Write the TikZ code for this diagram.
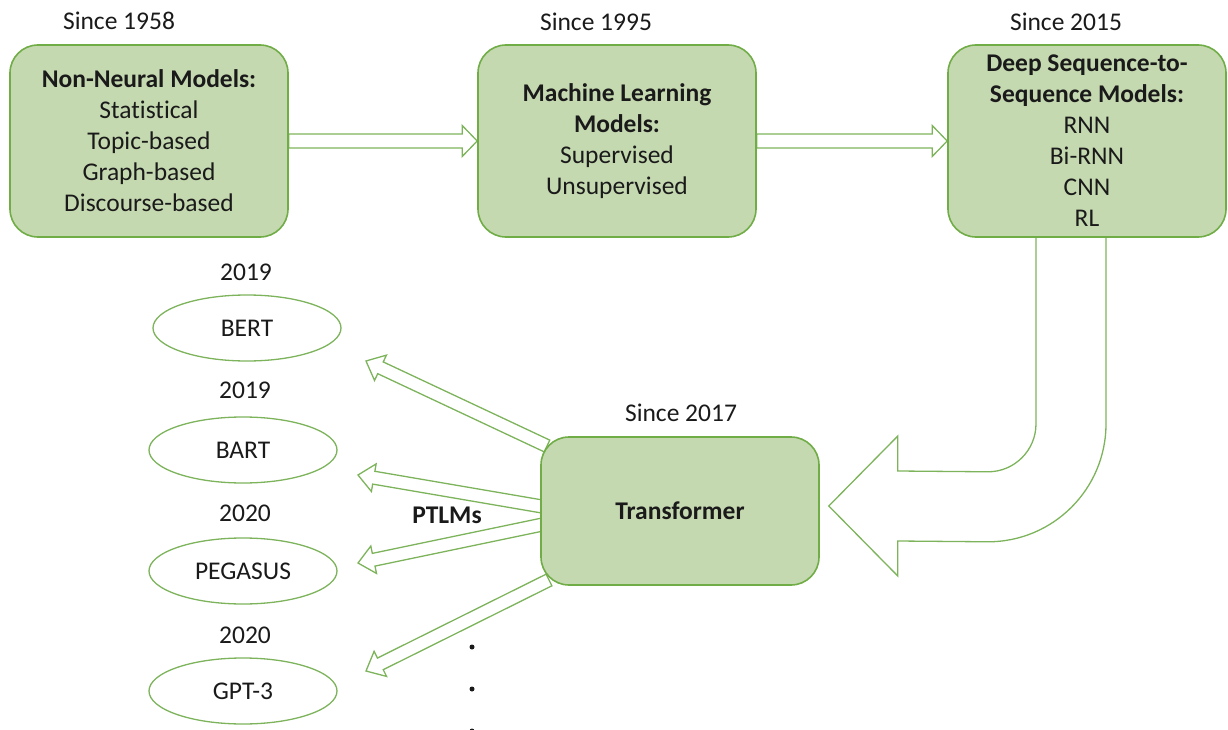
\documentclass[tikz,border=0pt]{standalone}
\usepackage{fontspec}
\setmainfont{Carlito}[Ligatures=NoCommon]
\usetikzlibrary{calc,shapes.geometric}
\pgfdeclarelayer{background}
\pgfsetlayers{background,main}

\definecolor{boxfill}{HTML}{C5D9B0}
\definecolor{boxline}{HTML}{70AD47}
\definecolor{arrowline}{HTML}{7CB35B}
\definecolor{ink}{HTML}{1A1A1A}

\tikzset{
  stage/.style={draw=boxline, line width=1.6bp, fill=boxfill, rounded corners=28bp,
    minimum width=278bp, align=center, text=ink, inner sep=0pt},
  model/.style={ellipse, draw=arrowline, line width=1.3bp, fill=white,
    minimum width=188bp, minimum height=66bp, inner sep=0pt, text=ink},
  yeartext/.style={text=ink, inner sep=0pt},
  blockarrow/.style={draw=arrowline, line width=1.3bp, line join=miter},
  dotmark/.style={circle, fill=ink, inner sep=0pt, minimum size=5bp},
}

% hollow block arrow: tail, tip, half shaft width, half head width, head length
\newcommand\hollowarrow[5]{%
  \coordinate (hb) at ($(#2)!#5!(#1)$);
  \draw[blockarrow] ($(#1)!#3!90:(#2)$) -- ($(hb)!#3!-90:(#1)$) -- ($(hb)!#4!-90:(#1)$)
    -- (#2) -- ($(hb)!#4!90:(#1)$) -- ($(hb)!#3!90:(#1)$) -- ($(#1)!#3!-90:(#2)$) -- cycle;
}

\begin{document}
\begin{tikzpicture}[x=1bp, y=-1bp, font=\fontsize{25.5bp}{31bp}\selectfont]
\useasboundingbox (0,0) rectangle (1228,730);

% main stages
\node[stage, minimum height=192bp] (b1) at (149,141)
  {\textbf{Non-Neural Models:}\\Statistical\\Topic-based\\Graph-based\\Discourse-based};
\node[stage, minimum height=192bp] (b2) at (617,141)
  {\textbf{Machine Learning}\\\textbf{Models:}\\Supervised\\Unsupervised};
\node[stage, minimum height=192bp] (b3) at (1087,141)
  {\textbf{Deep Sequence-to-}\\\textbf{Sequence Models:}\\RNN\\Bi-RNN\\CNN\\RL};
\node[stage, minimum height=148bp] (tr) at (680,511) {\textbf{Transformer}};

% dates
\node[yeartext] (y1) at (119,21) {Since 1958};
\node[yeartext] (y2) at (596,22) {Since 1995};
\node[yeartext] (y3) at (1066,22) {Since 2015};
\node[yeartext] (y4) at (681,413) {Since 2017};

% pre-trained language models
\node[model] (bert) at (247,328) {BERT};
\node[model] (bart) at (243,450) {BART};
\node[model] (pegasus) at (243,571) {PEGASUS};
\node[model] (gpt) at (243,691) {GPT-3};
\node[yeartext] (d1) at (246,272) {2019};
\node[yeartext] (d2) at (245,390) {2019};
\node[yeartext] (d3) at (245,513) {2020};
\node[yeartext] (d4) at (245,635) {2020};
\node[yeartext] (ptlm) at (447,515) {\textbf{PTLMs}};

% continuation dots
\node[dotmark] (dot1) at (472,647) {};
\node[dotmark] (dot2) at (472,689) {};
\node[dotmark] (dot3) at (472,731) {};

% arrow end points
\coordinate (ta) at (547,446);
\coordinate (tb) at (545,507);
\coordinate (tc) at (545,524);
\coordinate (td) at (549,580);
\coordinate (pa) at (366,361);
\coordinate (pb) at (358,475);
\coordinate (pc) at (358,563);
\coordinate (pd) at (366,671);

\begin{pgfonlayer}{background}
  % timeline arrows
  \hollowarrow{b1.east}{b2.west}{7bp}{15.5bp}{15bp}
  \hollowarrow{b2.east}{b3.west}{7bp}{15.5bp}{15bp}
  % transformer to PTLMs
  \hollowarrow{ta}{pa}{6.5bp}{14bp}{16bp}
  \hollowarrow{tb}{pb}{6.5bp}{14bp}{16bp}
  \hollowarrow{tc}{pc}{6.5bp}{14bp}{16bp}
  \hollowarrow{td}{pd}{6.5bp}{14bp}{16bp}
  % large U-turn arrow from sequence models into the transformer
  \draw[blockarrow, line join=miter]
    ($(b3.south)+(-51,0)$) -- ($(b3.south)+(-51,186)$)
    .. controls ($(b3.south)+(-51,212.5)$) and ($(b3.south)+(-72.5,234)$) .. ($(b3.south)+(-99,234)$)
    -- ($(tr.east)+(78,-40)$) -- ($(tr.east)+(78,-75)$) -- ($(tr.east)+(9,-5)$)
    -- ($(tr.east)+(78,65)$) -- ($(tr.east)+(78,30)$)
    -- ($(b3.south)+(-99,304)$)
    .. controls ($(b3.south)+(-33.8,304)$) and ($(b3.south)+(19,251.2)$) .. ($(b3.south)+(19,186)$)
    -- ($(b3.south)+(19,0)$);
\end{pgfonlayer}
\end{tikzpicture}
\end{document}
